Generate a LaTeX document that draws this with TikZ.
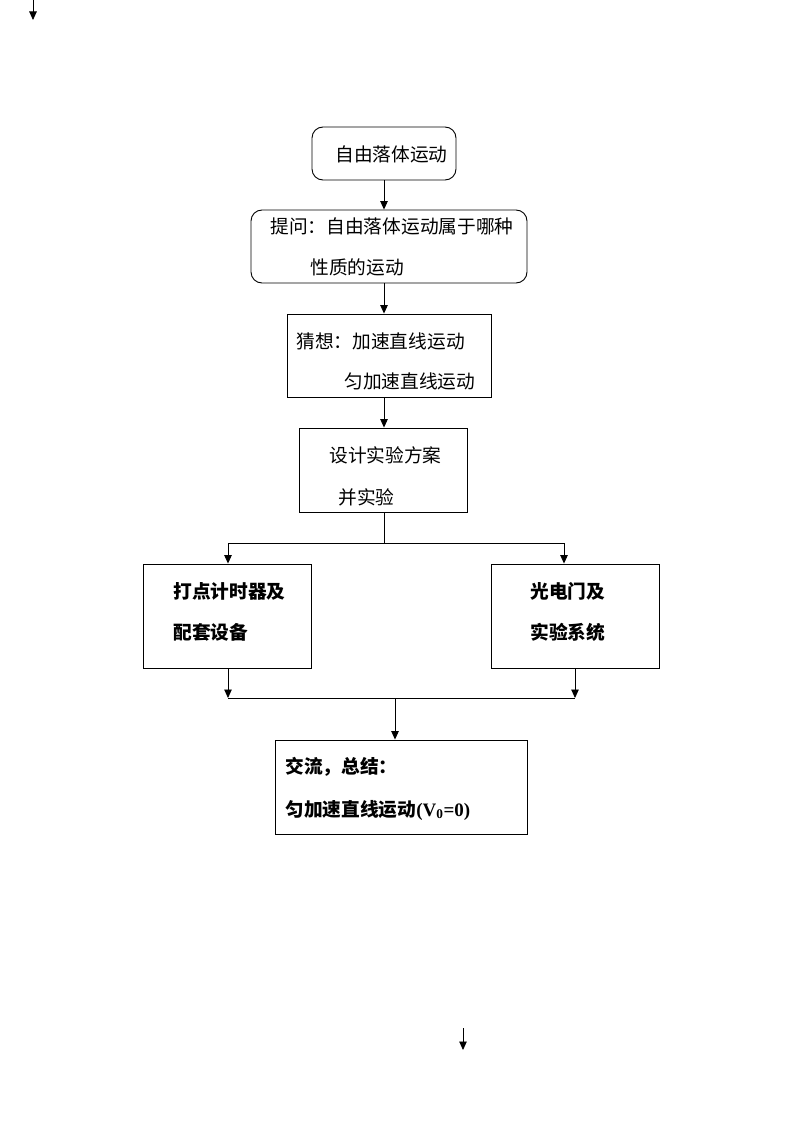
\documentclass[tikz,border=0pt]{standalone}
\usepackage{fontspec}
\setmainfont{Liberation Serif}
\newfontfamily\cjk{Noto Sans CJK SC}
\usetikzlibrary{arrows.meta}
\begin{document}
\begin{tikzpicture}[x=1pt,y=-1pt, line width=0.9pt,
  box/.style={draw, rectangle, inner sep=0pt},
  rbox/.style={box, rounded corners=11pt},
  txt/.style={anchor=west, inner sep=0pt, font=\cjk\fontsize{18.7}{18.7}\selectfont},
  btxt/.style={anchor=west, inner sep=0pt, font=\cjk\bfseries\fontsize{18.7}{18.7}\selectfont},
  arr/.style={-{Triangle[length=8.5pt,width=7.5pt]}}]
\useasboundingbox (0,0) rectangle (794,1123);
\fill[white] (0,0) rectangle (794,1123);

% boxes
\node[rbox, minimum width=144pt, minimum height=53pt] (b1) at (384,153.5) {};
\node[rbox, minimum width=276pt, minimum height=73pt] (b2) at (389,246.5) {};
\node[box, minimum width=204pt, minimum height=83pt] (b3) at (389,355.5) {};
\node[box, minimum width=168pt, minimum height=84pt] (b4) at (383,470) {};
\node[box, minimum width=168pt, minimum height=104pt] (b5) at (227,616) {};
\node[box, minimum width=168pt, minimum height=104pt] (b6) at (575,616) {};
\node[box, minimum width=252pt, minimum height=94pt] (b7) at (401,787) {};

% texts
\node[txt] (t1) at (335,154) {自由落体运动};
\node[txt] (t2a) at (270,226) {提问：自由落体运动属于哪种};
\node[txt] (t2b) at (310,267) {性质的运动};
\node[txt] (t3a) at (296,341) {猜想：加速直线运动};
\node[txt] (t3b) at (344,381) {匀加速直线运动};
\node[txt] (t4a) at (329,455) {设计实验方案};
\node[txt] (t4b) at (338,497) {并实验};
\node[btxt] (t5a) at (173,591) {打点计时器及};
\node[btxt] (t5b) at (173,632) {配套设备};
\node[btxt] (t6a) at (530,591) {光电门及};
\node[btxt] (t6b) at (530,632) {实验系统};
\node[btxt] (t7a) at (285,767) {交流，总结：};
\node[btxt] (t7b) at (285,810) {匀加速直线运动{\rmfamily\bfseries\fontsize{19}{19}\selectfont(V\textsubscript{0}=0)}};

% connectors
\coordinate (cx) at (384,0);
\draw[arr] (b1.south -| cx) -- (b2.north -| cx);
\draw[arr] (b2.south -| cx) -- (b3.north -| cx);
\draw[arr] (b3.south -| cx) -- (b4.north -| cx);

\coordinate (s) at (384,543);
\coordinate (sL) at (228,543);
\coordinate (sR) at (564,543);
\draw (b4.south -| cx) -- (s);
\draw (sL) -- (sR);
\draw[arr] (sL) -- (sL |- b5.north);
\draw[arr] (sR) -- (sR |- b6.north);

\coordinate (mL) at (228,698);
\coordinate (mR) at (575,698);
\coordinate (mC) at (395,698);
\draw[arr] (b5.south -| mL) -- (mL);
\draw[arr] (b6.south -| mR) -- (mR);
\draw (mL) -- (mR);
\draw[arr] (mC) -- (mC |- b7.north);

% stray arrows
\coordinate (a1) at (33,0);
\coordinate (a2) at (33,20);
\draw[arr] (a1) -- (a2);
\coordinate (c1) at (463,1028);
\coordinate (c2) at (463,1050);
\draw[arr] (c1) -- (c2);
\end{tikzpicture}
\end{document}
